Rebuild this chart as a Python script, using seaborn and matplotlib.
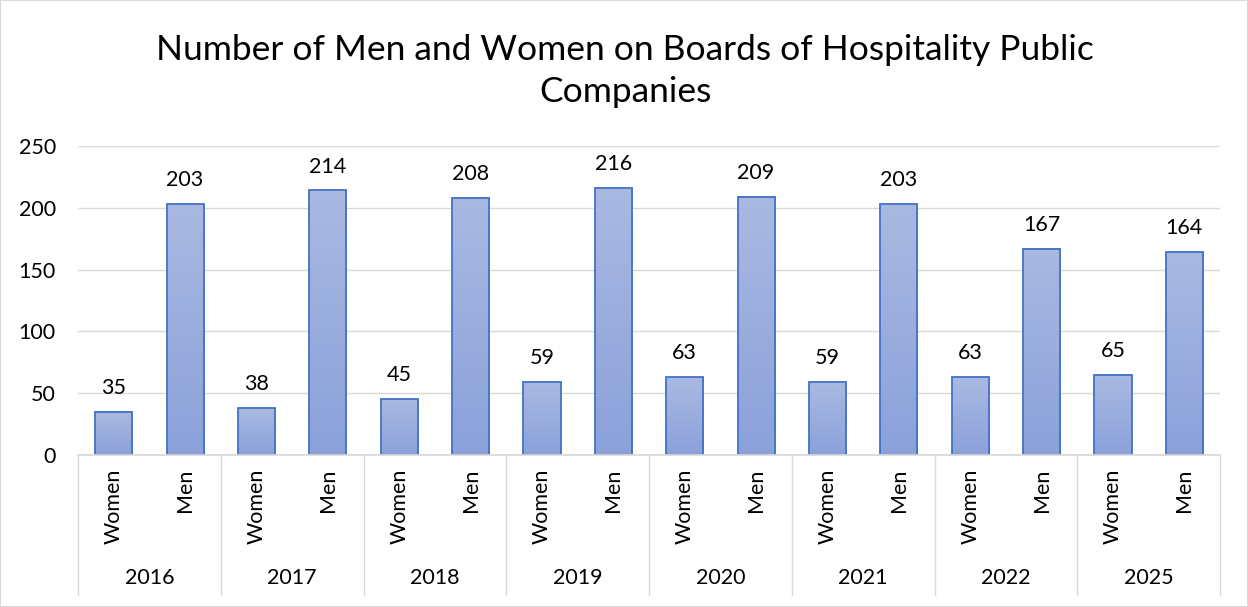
import matplotlib.pyplot as plt
import matplotlib.transforms as mtransforms
from matplotlib.colors import LinearSegmentedColormap
import numpy as np
import pandas as pd
import seaborn as sns

years = ["2016", "2017", "2018", "2019", "2020", "2021", "2022", "2025"]
sexes = ["Women", "Men"]
women = [35, 38, 45, 59, 63, 59, 63, 65]
men = [203, 214, 208, 216, 209, 203, 167, 164]

rows = []
for y, w, m in zip(years, women, men):
    rows.append({"cat": y + " Women", "year": y, "sex": "Women", "count": w})
    rows.append({"cat": y + " Men", "year": y, "sex": "Men", "count": m})
df = pd.DataFrame(rows)

sns.set_theme(style="white")
plt.rcParams["font.family"] = ["Lato", "DejaVu Sans"]

fig = plt.figure(figsize=(12.48, 6.07), dpi=100)
ax = fig.add_axes([0.0625, 0.2504, 0.9151, 0.5091])

sns.barplot(data=df, x="cat", y="count", order=list(df["cat"]), width=0.52,
            color="#9AACDD", edgecolor="#4472C4", linewidth=1.3, ax=ax,
            errorbar=None)

# gradient fill like the spreadsheet chart
cmap = LinearSegmentedColormap.from_list("grad", ["#8AA1DA", "#AAB9E2"])
grad = np.linspace(0, 1, 256).reshape(-1, 1)
for p in ax.patches:
    x0, y0 = p.get_x(), p.get_y()
    w, h = p.get_width(), p.get_height()
    ax.imshow(grad, extent=[x0, x0 + w, y0, y0 + h], origin="lower",
              aspect="auto", cmap=cmap, zorder=p.get_zorder() - 0.05)
    p.set_facecolor("none")

fs = 15.5
for c in ax.containers:
    ax.bar_label(c, padding=10, fontsize=fs, color="#000000")

n = len(df)
ax.set_xlim(-0.5, n - 0.5)
ax.set_ylim(0, 250)
ax.set_yticks([0, 50, 100, 150, 200, 250])
ax.yaxis.grid(True, color="#D9D9D9", linewidth=1)
ax.set_axisbelow(True)
for s in ["top", "right", "left"]:
    ax.spines[s].set_visible(False)
ax.spines["bottom"].set_color("#D9D9D9")
ax.tick_params(axis="y", length=0, pad=16, labelsize=fs, labelcolor="#000000")
ax.set_xticks(range(n))
ax.set_xticklabels(df["sex"], rotation=90, fontsize=fs, color="#000000")
ax.tick_params(axis="x", length=0, pad=10)
ax.set_xlabel("")
ax.set_ylabel("")

# year labels and group separators
trans = mtransforms.blended_transform_factory(ax.transData, ax.transAxes)
for i, y in enumerate(years):
    ax.text(2 * i + 0.5, -0.397, y, transform=trans, ha="center", va="center",
            fontsize=fs, color="#000000")
for k in range(len(years) + 1):
    ax.plot([2 * k - 0.5, 2 * k - 0.5], [0, -0.453], transform=trans,
            color="#D9D9D9", linewidth=1, clip_on=False)

fig.text(0.501, 0.883, "Number of Men and Women on Boards of Hospitality Public\nCompanies",
         ha="center", va="center", fontsize=25.5, color="#000000", linespacing=1.38)

fig.patches.append(plt.Rectangle((0, 0), 1, 1, transform=fig.transFigure,
                                 fill=False, edgecolor="#D9D9D9", linewidth=1.5))

fig.savefig("out.png", dpi=100)
